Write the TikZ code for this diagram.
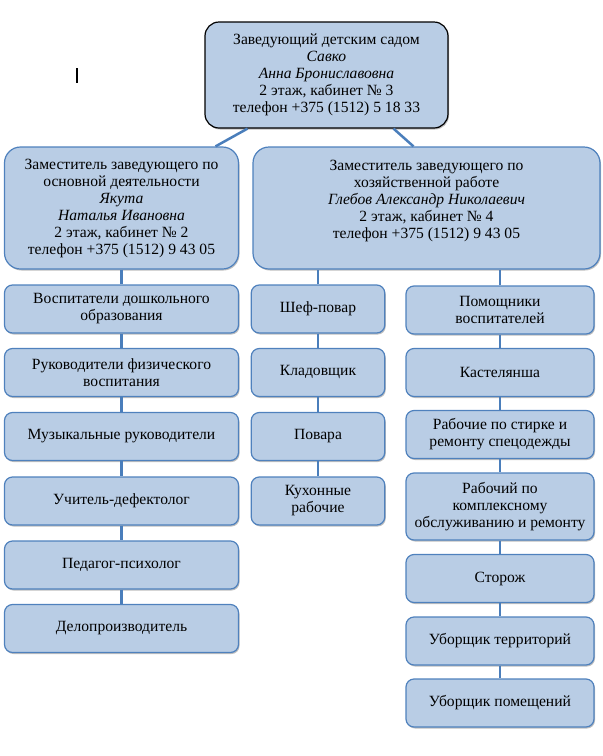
\documentclass[tikz,border=0pt]{standalone}
\usepackage{fontspec}
\setmainfont{Liberation Serif}
\usetikzlibrary{shadows}
\definecolor{boxfill}{HTML}{B9CDE5}
\definecolor{boxline}{HTML}{4F81BD}
\definecolor{linkblue}{HTML}{4A7EBB}

\begin{document}
\begin{tikzpicture}[x=1pt, y=-1pt,
    font=\fontsize{15.6}{17}\selectfont,
    box/.style={draw=boxline, fill=boxfill, line width=1.2pt, rounded corners=8pt,
      align=center, inner sep=0pt,
      drop shadow={shadow xshift=1pt, shadow yshift=-1.5pt, fill=black, opacity=0.25}},
    bigbox/.style={box, rounded corners=16pt},
    link/.style={draw=linkblue, line width=2.5pt}]
    \useasboundingbox (0,0) rectangle (603,756);
    % text cursor left in the screenshot
    \draw[line width=2pt] (77,68) -- (77,83);
    % head and deputies
    \node[bigbox, draw=black, rounded corners=14pt, minimum width=243, minimum height=106] (boss) at (326.5,75)
      {Заведующий детским садом\\ \textit{Савко}\\ \textit{Анна Брониславовна}\\ 2 этаж, кабинет № 3\\ телефон +375 (1512) 5 18 33};
    \node[bigbox, minimum width=234, minimum height=122] (ld) at (121.5,208)
      {Заместитель заведующего по\\ основной деятельности\\ \textit{Якута}\\ \textit{Наталья Ивановна}\\ 2 этаж, кабинет № 2\\ телефон +375 (1512) 9 43 05};
    % empty last line keeps the text high in the box
    \node[bigbox, minimum width=347, minimum height=122] (rd) at (426.5,208)
      {Заместитель заведующего по\\ хозяйственной работе\\ \textit{Глебов Александр Николаевич}\\ 2 этаж, кабинет № 4\\ телефон +375 (1512) 9 43 05\\ ~};
    % columns
    \foreach \y/\txt [count=\i] in {309/Воспитатели дошкольного\\образования,
        372.5/Руководители физического\\воспитания,
        436.5/Музыкальные руководители,
        501/Учитель-дефектолог,
        565/Педагог-психолог,
        628.5/Делопроизводитель}
      \node[box, minimum width=234, minimum height=48] (l\i) at (121.5,\y) {\txt};
    \foreach \y/\txt [count=\i] in {309/Шеф-повар,
        372.5/Кладовщик,
        436.5/Повара,
        501/Кухонные\\рабочие}
      \node[box, minimum width=133.5, minimum height=48] (m\i) at (318,\y) {\txt};
    \foreach \y/\h/\txt [count=\i] in {310/48/Помощники\\воспитателей,
        372.5/48/Кастелянша,
        434.5/48/Рабочие по стирке и\\ремонту спецодежды,
        506.5/67/Рабочий по\\комплексному\\обслуживанию и ремонту,
        578.5/48/Сторож,
        641/48/Уборщик территорий,
        703/48/Уборщик помещений}
      \node[box, minimum width=188, minimum height=\h] (r\i) at (500,\y) {\txt};
    % connectors
    \draw[link] ([xshift=-79pt]boss.south) -- ([xshift=94pt]ld.north);
    \draw[link] ([xshift=67pt]boss.south) -- ([xshift=-13pt]rd.north);
    \draw[link] (ld.south) -- (l1.north);
    \draw[link] (m1.north) -- (m1.north |- rd.south);
    \draw[link] (r1.north) -- (r1.north |- rd.south);
    \foreach \i [count=\j from 2] in {1,...,5}
      \draw[link] (l\i.south) -- (l\j.north);
    \foreach \i [count=\j from 2] in {1,...,3}
      \draw[link] (m\i.south) -- (m\j.north);
    \foreach \i [count=\j from 2] in {1,...,6}
      \draw[link] (r\i.south) -- (r\j.north);
\end{tikzpicture}
\end{document}
